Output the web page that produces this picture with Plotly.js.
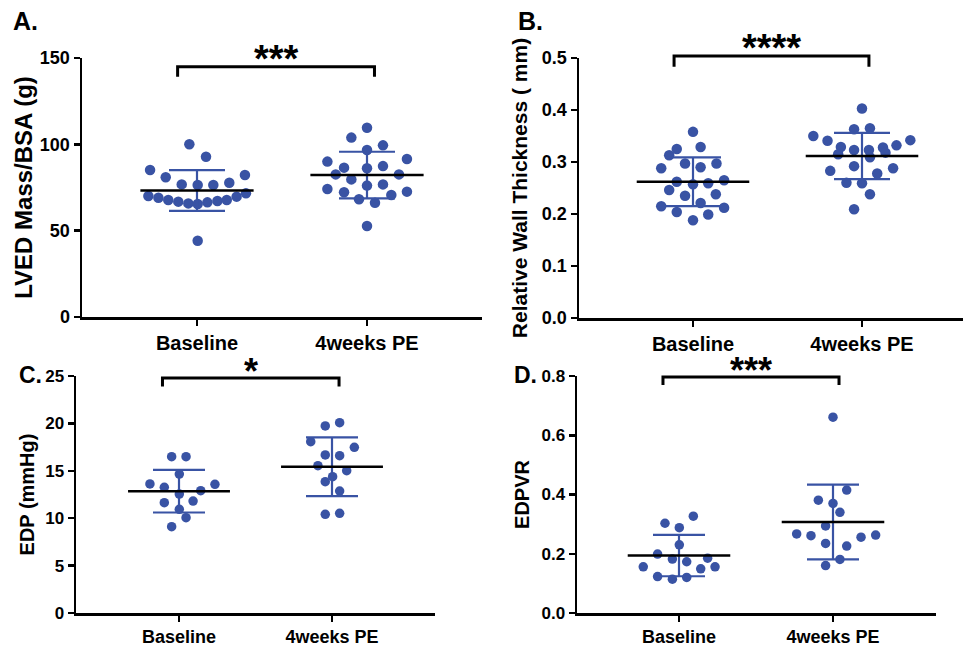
<!DOCTYPE html>
<html><head><meta charset="utf-8">
<script src="https://cdn.plot.ly/plotly-3.0.1.min.js"></script>
<style>html,body{margin:0;padding:0;background:#fff}</style>
</head><body><div id="chart" style="width:963px;height:648px"></div>
<script>
const categories = ['Baseline', '4weeks PE'];

// Panel A: LVED Mass/BSA (g)
const lvedBaseline = [100.0, 92.8, 85.1, 80.9, 82.2, 76.8, 76.4, 76.4, 77.8, 71.6, 70.1, 69.1, 67.8, 66.8, 65.8, 65.4, 66.4, 67.2, 67.8, 69.7, 44.2];
const lvedBaselineJitter = [-0.045, 0.053, -0.276, -0.184, 0.282, -0.090, 0.004, 0.096, 0.190, 0.288, -0.286, -0.227, -0.169, -0.110, -0.051, 0.004, 0.061, 0.120, 0.175, 0.233, 0.004];
const lvedPE = [109.6, 103.9, 99.4, 96.7, 90.0, 91.5, 86.5, 86.1, 87.4, 82.6, 82.6, 79.7, 76.1, 76.8, 74.1, 72.2, 72.6, 68.2, 66.2, 70.7, 52.7];
const lvedPEJitter = [0, -0.092, 0.094, 0, -0.233, 0.235, -0.135, 0, 0.094, -0.184, 0.188, -0.092, 0, 0.094, -0.233, -0.135, 0.235, -0.047, 0.047, 0.143, 0];
const lvedMean = [73.3, 82.2];
const lvedSD = [11.8, 13.5];

// Panel B: Relative Wall Thickness
const rwtBaseline = [0.358, 0.325, 0.329, 0.313, 0.288, 0.297, 0.290, 0.297, 0.262, 0.257, 0.259, 0.265, 0.246, 0.235, 0.238, 0.215, 0.221, 0.212, 0.204, 0.199, 0.188];
const rwtBaselineJitter = [0, -0.096, 0.045, -0.141, -0.188, -0.047, 0.045, 0.139, -0.096, 0, 0.090, 0.184, -0.141, -0.047, 0.135, -0.188, 0.045, 0.184, -0.096, 0.090, 0];
const rwtPE = [0.403, 0.363, 0.365, 0.350, 0.341, 0.342, 0.332, 0.329, 0.323, 0.323, 0.328, 0.318, 0.315, 0.309, 0.292, 0.288, 0.283, 0.278, 0.260, 0.259, 0.238, 0.209];
const rwtPEJitter = [0, -0.047, 0.047, -0.288, -0.204, 0.286, 0.204, -0.125, -0.047, 0.041, 0.124, 0.139, -0.141, 0.047, -0.047, 0.184, -0.188, 0.090, -0.092, 0, 0.047, -0.047];
const rwtMean = [0.262, 0.3115];
const rwtSD = [0.047, 0.0445];

// Panel C: EDP (mmHg)
const edpBaseline = [16.49, 16.49, 14.66, 13.61, 13.57, 13.26, 12.90, 12.55, 11.64, 11.81, 10.94, 10.05, 9.11];
const edpBaselineJitter = [-0.048, 0.046, 0.002, -0.190, 0.235, -0.096, 0.142, 0.002, -0.096, 0.092, 0.002, 0.046, -0.048];
const edpPE = [19.73, 20.08, 18.07, 17.48, 16.67, 16.60, 15.54, 15.01, 14.38, 13.85, 12.87, 10.41, 10.51];
const edpPEJitter = [-0.044, 0.050, -0.139, 0.146, -0.044, 0.050, -0.092, 0.096, 0.004, -0.044, 0.050, -0.044, 0.050];
const edpMean = [12.85, 15.43];
const edpSD = [2.25, 3.1];

// Panel D: EDPVR
const edpvrBaseline = [0.327, 0.303, 0.288, 0.230, 0.199, 0.182, 0.173, 0.185, 0.156, 0.149, 0.156, 0.123, 0.114, 0.120];
const edpvrBaselineJitter = [0.093, -0.091, 0.002, 0.002, -0.139, -0.043, 0.050, 0.186, -0.232, 0.141, 0.234, -0.139, -0.043, 0.050];
const edpvrPE = [0.661, 0.415, 0.381, 0.370, 0.340, 0.294, 0.267, 0.261, 0.256, 0.263, 0.235, 0.226, 0.181, 0.160];
const edpvrPEJitter = [0, 0.089, -0.095, 0, 0.045, -0.048, -0.236, -0.143, 0.182, 0.277, -0.048, 0.089, 0.045, -0.048];
const edpvrMean = [0.194, 0.307];
const edpvrSD = [0.07, 0.126];

// Significance labels and bracket extents (data units)
const sigLabels = ['***', '****', '*', '***'];
const bracketTop = [145, 0.504, 24.8, 0.797];
const bracketDrop = [139.2, 0.483, 23.9, 0.770];
const bracketLeft = [-0.114, -0.112, -0.108, -0.104];
const bracketRight = [1.044, 1.041, 1.046, 1.039];

const yTitles = ['LVED Mass/BSA (g)', 'Relative Wall Thickness ( mm)', 'EDP (mmHg)', 'EDPVR'];
const panelLetters = ['A.', 'B.', 'C.', 'D.'];
const yTicks = [[0, 50, 100, 150], [0, 0.1, 0.2, 0.3, 0.4, 0.5], [0, 5, 10, 15, 20, 25], [0, 0.2, 0.4, 0.6, 0.8]];
const yMax = [150, 0.5, 25, 0.8];

const panels = [
  {b: lvedBaseline, bj: lvedBaselineJitter, p: lvedPE, pj: lvedPEJitter, m: lvedMean, sd: lvedSD},
  {b: rwtBaseline, bj: rwtBaselineJitter, p: rwtPE, pj: rwtPEJitter, m: rwtMean, sd: rwtSD},
  {b: edpBaseline, bj: edpBaselineJitter, p: edpPE, pj: edpPEJitter, m: edpMean, sd: edpSD},
  {b: edpvrBaseline, bj: edpvrBaselineJitter, p: edpvrPE, pj: edpvrPEJitter, m: edpvrMean, sd: edpvrSD}
];

// Layout geometry (pixels)
const W = 963, H = 648;
const geom = [
  {xl: 82, xr: 482, c0: 197, step: 170, yt: 58, yb: 317, ovTop: 0, tickSize: 18, xTickSize: 20, titleSize: 24, standoff: 1, dot: 10.5, cap: 28, star: 38, starShift: 8, letterSize: 25, letter: {x: 11, y: 5}},
  {xl: 579, xr: 963, c0: 693, step: 169, yt: 58, yb: 318, ovTop: 0, tickSize: 18, xTickSize: 20, titleSize: 21, standoff: 9, dot: 10.5, cap: 28, star: 38, starShift: 8, letterSize: 25, letter: {x: 516, y: 5}},
  {xl: 76, xr: 435, c0: 179, step: 153, yt: 376, yb: 613, ovTop: 335, tickSize: 17, xTickSize: 18, titleSize: 20, standoff: 5, dot: 9.5, cap: 26, star: 36, starShift: 6, letterSize: 23, letter: {x: 17, y: 360}},
  {xl: 577, xr: 936, c0: 679, step: 154, yt: 376, yb: 613, ovTop: 335, tickSize: 17, xTickSize: 18, titleSize: 20, standoff: 7, dot: 9.5, cap: 26, star: 36, starShift: 6, letterSize: 23, letter: {x: 512, y: 360}}
];

const BLUE = '#3953a4';
const FONT = 'Liberation Sans, Arial, sans-serif';
const traces = [];
const layout = {
  width: W, height: H, margin: {l: 0, r: 0, t: 0, b: 0},
  paper_bgcolor: '#fff', plot_bgcolor: 'rgba(0,0,0,0)', showlegend: false,
  font: {family: FONT, color: '#000', weight: 'bold'},
  annotations: []
};

panels.forEach((d, i) => {
  const g = geom[i];
  const n = i + 1;
  const xs = n === 1 ? 'x' : 'x' + n;
  const ys = n === 1 ? 'y' : 'y' + n;
  const ovs = 'y' + (n + 4);
  const pxPerUnit = (g.yb - g.yt) / yMax[i];
  const xRange = [-(g.c0 - g.xl) / g.step, (g.xr - g.c0) / g.step];

  layout['xaxis' + (n === 1 ? '' : n)] = {
    domain: [g.xl / W, g.xr / W], range: xRange, anchor: ys,
    tickvals: [0, 1], ticktext: categories, ticks: 'outside', ticklen: 6, tickwidth: 2.5, tickcolor: '#000',
    showline: true, linecolor: '#000', linewidth: 2.5, showgrid: false, zeroline: false, fixedrange: true,
    tickfont: {family: FONT, size: g.xTickSize, weight: 'bold', color: '#000'}
  };
  layout['yaxis' + (n === 1 ? '' : n)] = {
    domain: [1 - g.yb / H, 1 - g.yt / H], range: [0, yMax[i]], anchor: xs,
    tickvals: yTicks[i], tickformat: (i === 1 || i === 3) ? '.1f' : 'd',
    ticks: 'outside', ticklen: 6, tickwidth: 2.5, tickcolor: '#000',
    showline: true, linecolor: '#000', linewidth: 2.5, showgrid: false, zeroline: false, fixedrange: true,
    tickfont: {family: FONT, size: g.tickSize, weight: 'bold', color: '#000'},
    title: {text: yTitles[i], font: {family: FONT, size: g.titleSize, weight: 'bold', color: '#000'}, standoff: g.standoff}
  };
  layout['yaxis' + (n + 4)] = {
    domain: [1 - g.yb / H, 1 - g.ovTop / H], range: [0, (g.yb - g.ovTop) / pxPerUnit], anchor: xs,
    visible: false, fixedrange: true
  };

  // dots
  traces.push({
    type: 'scatter', mode: 'markers', xaxis: xs, yaxis: ys, cliponaxis: false, hoverinfo: 'skip',
    x: d.bj.map(j => 0 + j).concat(d.pj.map(j => 1 + j)),
    y: d.b.concat(d.p),
    marker: {color: BLUE, size: g.dot, line: {width: 0}}
  });
  // SD error bars
  traces.push({
    type: 'scatter', mode: 'markers', xaxis: xs, yaxis: ys, cliponaxis: false, hoverinfo: 'skip',
    x: [0, 1], y: d.m, marker: {size: 0.1, color: 'rgba(0,0,0,0)'},
    error_y: {type: 'data', array: d.sd, visible: true, color: BLUE, thickness: 2.2, width: g.cap}
  });
  // mean lines
  const half = 0.333;
  traces.push({
    type: 'scatter', mode: 'lines', xaxis: xs, yaxis: ys, hoverinfo: 'skip',
    x: [0 - half, 0 + half, null, 1 - half, 1 + half],
    y: [d.m[0], d.m[0], null, d.m[1], d.m[1]],
    line: {color: '#000', width: 2.6}
  });
  // significance bracket
  traces.push({
    type: 'scatter', mode: 'lines', xaxis: xs, yaxis: ovs, hoverinfo: 'skip',
    x: [bracketLeft[i], bracketLeft[i], bracketRight[i], bracketRight[i]],
    y: [bracketDrop[i], bracketTop[i], bracketTop[i], bracketDrop[i]],
    line: {color: '#000', width: 3}
  });
  layout.annotations.push({
    xref: xs, yref: ovs, x: (bracketLeft[i] + bracketRight[i]) / 2, y: bracketTop[i],
    text: sigLabels[i], showarrow: false, xanchor: 'center', yanchor: 'middle', yshift: g.starShift,
    font: {family: FONT, size: g.star, weight: 'bold', color: '#000'}
  });
  layout.annotations.push({
    xref: 'paper', yref: 'paper', x: g.letter.x / W, y: 1 - g.letter.y / H,
    xanchor: 'left', yanchor: 'top', text: panelLetters[i], showarrow: false,
    font: {family: FONT, size: g.letterSize, weight: 'bold', color: '#000'}
  });
});

Plotly.newPlot('chart', traces, layout, {staticPlot: true, displayModeBar: false});
</script>
</body></html>
